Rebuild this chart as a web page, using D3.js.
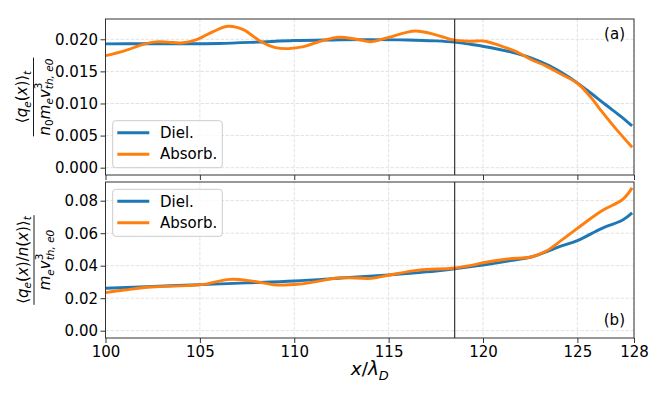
<!DOCTYPE html>
<html><head><meta charset="utf-8">
<script src="https://cdn.jsdelivr.net/npm/d3@7"></script>
<style>body{margin:0;background:#fff}svg{display:block}text{font-family:"DejaVu Sans",sans-serif}</style>
</head><body><svg id="c" width="664" height="399"></svg>
<script>
// ---------- data ----------
const xTicks = [100,105,110,115,120,125,128];
const topTicks = [0.000,0.005,0.010,0.015,0.020];
const botTicks = [0.00,0.02,0.04,0.06,0.08];
const seriesNames = ["Diel.","Absorb."];
const vLineX = 118.5;

const topDielX = [100,102,104,106,108,110,112,114,116,117.5,118.5,119.5,120.5,121.5,122.5,123.5,124.5,125.5,126.5,127.3,127.9];
const topDielY = [0.01928,0.01930,0.01930,0.01935,0.01955,0.01980,0.01990,0.01995,0.01990,0.01975,0.01955,0.01915,0.01865,0.01800,0.01715,0.01590,0.01420,0.01210,0.00980,0.00800,0.00650];

const topAbsX = [100,101,102,102.7,103.3,104,104.8,105.7,106.5,107.3,108.2,109,109.7,110.5,111.5,112.4,113.3,114.1,115,116.4,117.5,118.4,119.3,120,120.5,121.2,121.76,122.6,123.3,124.05,125,125.7,126.3,127,127.9];
const topAbsY = [0.01745,0.01820,0.01920,0.01960,0.01955,0.01943,0.01990,0.02120,0.02203,0.02150,0.01970,0.01870,0.01855,0.01885,0.01980,0.02032,0.02000,0.01963,0.02030,0.02130,0.02070,0.01990,0.01970,0.01974,0.01940,0.01870,0.01807,0.01678,0.01590,0.01470,0.01315,0.01100,0.00873,0.00620,0.00318];

const botDielX = [100,102.5,105,107.5,110,112.5,115,117,118.4,120,121.3,122.6,123.3,124.05,125,126.3,127.4,127.9];
const botDielY = [0.0261,0.0272,0.0283,0.0294,0.0306,0.0324,0.0343,0.0362,0.0380,0.0404,0.0428,0.0455,0.0483,0.0517,0.0554,0.0630,0.0681,0.0725];

const botAbsX = [100,101,102.4,104.3,105.2,106.6,107.8,109.06,110.3,111.3,112.4,114.1,115.05,116.6,118.4,119.3,120,121.3,122.6,123.35,124.2,125,126.3,127.4,127.9];
const botAbsY = [0.0234,0.0250,0.0269,0.0277,0.0285,0.0316,0.0305,0.0281,0.0287,0.0305,0.0326,0.0322,0.0343,0.0373,0.0384,0.0400,0.0418,0.0441,0.0455,0.0490,0.0560,0.0630,0.0738,0.0808,0.0879];

// ---------- layout ----------
const svg = d3.select("#c");
const L = 105.5, R = 634;
const colors = ["#1f77b4","#ff7f0e"];
const FS = 15;
const x = d3.scaleLinear().domain([100,128]).range([L,R]);
const panels = [
  {top:19, bot:175, dom:[-0.00114,0.02316], ticks:topTicks, fmt:d3.format(".3f"),
   series:[[topDielX,topDielY],[topAbsX,topAbsY]], label:"(a)", labY:39, legY:120.7},
  {top:182, bot:338, dom:[-0.0045,0.0915], ticks:botTicks, fmt:d3.format(".2f"),
   series:[[botDielX,botDielY],[botAbsX,botAbsY]], label:"(b)", labY:325, legY:189.3}
];

panels.forEach((p,pi)=>{
  const y = d3.scaleLinear().domain(p.dom).range([p.bot,p.top]);
  const g = svg.append("g");
  // grid
  g.append("g").selectAll("line").data(xTicks).join("line")
    .attr("x1",d=>x(d)).attr("x2",d=>x(d)).attr("y1",p.top).attr("y2",p.bot)
    .attr("stroke","#e2e2e2").attr("stroke-width",1).attr("stroke-dasharray","3.5,1.5");
  g.append("g").selectAll("line").data(p.ticks).join("line")
    .attr("x1",L).attr("x2",R).attr("y1",d=>y(d)).attr("y2",d=>y(d))
    .attr("stroke","#e2e2e2").attr("stroke-width",1).attr("stroke-dasharray","3.5,1.5");
  // lines
  const line = d3.line().x(d=>x(d[0])).y(d=>y(d[1])).curve(d3.curveCatmullRom.alpha(0.5));
  p.series.forEach((s,si)=>{
    const pts = s[0].map((v,i)=>[v,s[1][i]]);
    g.append("path").datum(pts).attr("d",line).attr("fill","none")
      .attr("stroke",colors[si]).attr("stroke-width",2.9).attr("stroke-linejoin","round").attr("stroke-linecap","butt");
  });
  // vertical line
  g.append("line").attr("x1",x(vLineX)).attr("x2",x(vLineX)).attr("y1",p.top).attr("y2",p.bot)
    .attr("stroke","#222").attr("stroke-width",1.1);
  // axes
  const ya = g.append("g").attr("transform",`translate(${L},0)`)
    .call(d3.axisLeft(y).tickValues(p.ticks).tickFormat(p.fmt).tickSize(5).tickPadding(2.5));
  ya.select(".domain").remove();
  ya.selectAll("text").attr("font-size",FS).attr("font-family","DejaVu Sans").attr("fill","#000");
  ya.selectAll("line").attr("stroke","#333");
  const xa = g.append("g").attr("transform",`translate(0,${p.bot})`)
    .call(d3.axisBottom(x).tickValues(xTicks).tickFormat(d3.format("d")).tickSize(5).tickPadding(3));
  xa.select(".domain").remove();
  xa.selectAll("line").attr("stroke","#333");
  if(pi===0) xa.selectAll("text").remove();
  else xa.selectAll("text").attr("font-size",FS).attr("font-family","DejaVu Sans").attr("fill","#000");
  // frame
  g.append("rect").attr("x",L).attr("y",p.top).attr("width",R-L).attr("height",p.bot-p.top)
    .attr("fill","none").attr("stroke","#333").attr("stroke-width",1);
  // panel label
  g.append("text").attr("x",625).attr("y",p.labY).attr("text-anchor","end")
    .attr("font-size",FS).text(p.label);
  // legend
  const lg = g.append("g").attr("transform",`translate(112.7,${p.legY})`);
  lg.append("rect").attr("width",109.6).attr("height",47).attr("rx",3)
    .attr("fill","#fff").attr("fill-opacity",0.8).attr("stroke","#cccccc").attr("stroke-width",1);
  seriesNames.forEach((n,i)=>{
    const yy = 12 + i*21.5;
    lg.append("line").attr("x1",4.6).attr("x2",36.6).attr("y1",yy).attr("y2",yy)
      .attr("stroke",colors[i]).attr("stroke-width",2.9);
    lg.append("text").attr("x",47.3).attr("y",yy+5.3).attr("font-size",FS).text(n);
  });
});

// ---------- math labels ----------
function mathText(parent, pieces, fs){
  const g = parent.append("g");
  let cx = 0, lastX = 0;
  pieces.forEach(pc=>{
    const small = pc.pos ? fs*0.7 : fs;
    const dy = pc.pos==='sub' ? fs*0.25 : pc.pos==='sup' ? -fs*0.5 : 0;
    const startX = pc.stack ? lastX : cx;
    const t = g.append("text").attr("x",startX).attr("y",dy).attr("font-size",small)
      .attr("font-style",pc.it?"italic":"normal").text(pc.t);
    const w = t.node().getComputedTextLength();
    if(pc.stack){ cx = Math.max(cx, startX + w); }
    else { lastX = cx; cx += w; }
  });
  return {g, w:cx};
}
function fracLabel(cx, cy, num, den, fs){
  const g = svg.append("g").attr("transform",`translate(${cx},${cy}) rotate(-90)`);
  const n = mathText(g, num, fs);
  const d = mathText(g, den, fs);
  const barW = Math.max(n.w, d.w) + 2;
  n.g.attr("transform",`translate(${-n.w/2},${-6.5})`);
  d.g.attr("transform",`translate(${-d.w/2},${16})`);
  g.append("line").attr("x1",-barW/2).attr("x2",barW/2).attr("y1",0).attr("y2",0)
    .attr("stroke","#000").attr("stroke-width",0.9);
}
const numTop = [{t:"\u27E8"},{t:"q",it:1},{t:"e",it:1,pos:"sub"},{t:"("},{t:"x",it:1},{t:")"},{t:"\u27E9"},{t:"t",it:1,pos:"sub"}];
const denTop = [{t:"n",it:1},{t:"0",pos:"sub"},{t:"m",it:1},{t:"e",it:1,pos:"sub"},{t:"v",it:1},{t:"3",pos:"sup"},{t:"th, e0",it:1,pos:"sub",stack:true}];
const numBot = [{t:"\u27E8"},{t:"q",it:1},{t:"e",it:1,pos:"sub"},{t:"("},{t:"x",it:1},{t:")/"},{t:"n",it:1},{t:"("},{t:"x",it:1},{t:")"},{t:"\u27E9"},{t:"t",it:1,pos:"sub"}];
const denBot = [{t:"m",it:1},{t:"e",it:1,pos:"sub"},{t:"v",it:1},{t:"3",pos:"sup"},{t:"th, e0",it:1,pos:"sub",stack:true}];
fracLabel(33.5, 97, numTop, denTop, FS);
fracLabel(34, 260, numBot, denBot, FS);

// x label
const xl = mathText(svg, [{t:"x",it:1},{t:"/"},{t:"\u03BB",it:1},{t:"D",it:1,pos:"sub"}], 18.5);
xl.g.attr("transform",`translate(${(L+R)/2 - xl.w/2},${375})`);
</script></body></html>
